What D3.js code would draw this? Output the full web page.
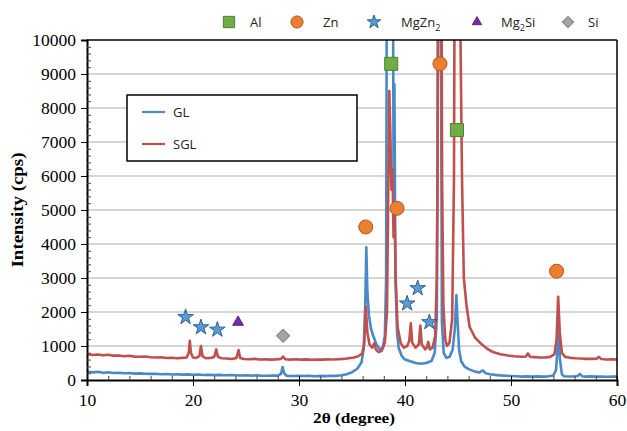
<!DOCTYPE html>
<html><head><meta charset="utf-8">
<script src="https://cdn.jsdelivr.net/npm/d3@7"></script>
<style>body{margin:0;background:#fff}svg{display:block}</style>
</head><body>
<svg id="c" width="627" height="431"></svg>
<script>
// ---- data ----
const xTicks = [10, 20, 30, 40, 50, 60];
const yTicks = [0, 1000, 2000, 3000, 4000, 5000, 6000, 7000, 8000, 9000, 10000];
const seriesNames = ["GL", "SGL"];

// GL (blue) pattern [2theta, cps]
const glData = [
 [10,250],[10.5,225],[11,240],[11.5,215],[12,228],[12.5,205],[13,215],[13.5,198],[14,206],[14.5,188],
 [15,196],[15.5,182],[16,180],[16.5,186],[17,168],[17.5,176],[18,162],[18.5,170],[19,158],[19.5,166],
 [20,152],[20.5,160],[21,148],[21.5,156],[22,144],[22.5,150],[23,138],[23.5,146],[24,138],[24.5,132],
 [25,140],[25.5,128],[26,135],[26.5,126],[27,124],[27.5,130],[28,128],[28.3,180],[28.45,380],[28.6,200],
 [28.8,128],[29,122],[29.5,118],[30,125],[30.5,116],[31,122],[31.5,112],[32,120],[32.5,114],[33,125],
 [33.5,122],[34,140],[34.5,170],[35,230],[35.5,330],[35.9,520],[36.1,900],[36.25,2200],[36.35,3900],[36.45,2600],
 [36.6,1900],[36.8,1500],[37.0,1300],[37.3,1050],[37.6,900],[37.9,950],[38.1,1300],[38.22,3000],[38.3,14000],[38.85,14000],
 [38.92,6000],[39.0,8700],[39.1,3000],[39.25,1400],[39.4,950],[39.7,700],[40.0,600],[40.5,550],[41,500],[41.5,480],
 [42,500],[42.5,560],[42.8,800],[43.0,1800],[43.18,14000],[43.36,14000],[43.48,1700],[43.65,800],[43.9,650],[44.2,680],
 [44.5,900],[44.7,1500],[44.85,2500],[44.95,1800],[45.1,900],[45.3,550],[45.6,400],[46,320],[46.5,260],[47,220],
 [47.35,280],[47.6,200],[48,170],[48.5,150],[49,135],[49.5,125],[50,118],[50.5,110],[51,100],[51.5,108],
 [52,98],[52.5,106],[53,100],[53.5,108],[54,130],[54.25,300],[54.38,900],[54.5,1450],[54.62,600],[54.8,170],
 [55,112],[55.5,104],[56,108],[56.3,118],[56.5,180],[56.7,110],[57,100],[57.5,106],[58,98],[58.5,104],
 [59,96],[59.5,102],[60,98]
];

// SGL (red) pattern [2theta, cps]
const sglData = [
 [10,765],[10.5,735],[11,752],[11.5,726],[12,742],[12.5,716],[13,720],[13.5,698],[14,712],[14.5,688],
 [15,684],[15.5,692],[16,668],[16.5,660],[17,668],[17.5,648],[18,656],[18.5,640],[19,652],[19.4,662],
 [19.6,800],[19.7,1150],[19.8,800],[20.0,660],[20.3,648],[20.6,700],[20.75,1000],[20.9,700],[21.2,640],[21.7,652],
 [22.0,680],[22.2,900],[22.35,680],[22.7,640],[23.2,632],[23.7,618],[24.1,650],[24.3,880],[24.45,650],[24.8,618],
 [25.3,610],[25.8,622],[26.3,604],[26.8,612],[27.3,600],[27.8,606],[28.3,622],[28.5,690],[28.7,612],[29.2,600],
 [29.7,610],[30.2,598],[30.7,606],[31.2,596],[31.7,604],[32.2,600],[32.7,608],[33.2,602],[33.7,612],[34.2,620],
 [34.7,640],[35.2,660],[35.6,700],[35.95,780],[36.15,1050],[36.3,2150],[36.45,1400],[36.65,1050],[36.9,950],[37.1,1080],
 [37.25,900],[37.5,820],[37.8,850],[38.1,1100],[38.3,2000],[38.42,5500],[38.52,8500],[38.62,7200],[38.72,5600],[38.82,6200],
 [38.92,4200],[39.02,4800],[39.12,3000],[39.3,1560],[39.6,1080],[39.9,950],[40.2,1000],[40.4,1150],[40.55,1670],[40.68,1100],
 [41.0,950],[41.3,1050],[41.45,1600],[41.58,1050],[41.9,900],[42.05,950],[42.2,1120],[42.35,900],[42.6,950],[42.85,1300],
 [43.0,3000],[43.07,5900],[43.12,14000],[43.42,14000],[43.5,5900],[43.62,2200],[43.8,1200],[43.95,1000],[44.2,1100],[44.45,1800],
 [44.62,5900],[44.7,14000],[45.1,14000],[45.38,5900],[45.55,3000],[45.8,2200],[46.1,1560],[46.6,1250],[47.1,1090],[47.7,930],
 [48.3,820],[49,760],[49.7,722],[50.3,700],[51,684],[51.4,690],[51.6,780],[51.8,684],[52.2,672],[52.7,660],
 [53.2,662],[53.7,680],[54.1,760],[54.3,1200],[54.45,2450],[54.6,1400],[54.8,800],[55.1,680],[55.6,652],[56.1,640],
 [56.6,632],[57.1,622],[57.6,620],[58.1,630],[58.3,680],[58.5,620],[59,602],[59.5,610],[60,600]
];

// phase markers
const legendPhases = ["Al", "Zn", "MgZn2", "Mg2Si", "Si"];
const alMarks = [[38.7, 9300], [44.9, 7350]];
const znMarks = [[36.3, 4500], [39.25, 5050], [43.3, 9300], [54.3, 3200]];
const mgzn2Marks = [[19.3, 1850], [20.75, 1550], [22.3, 1480], [40.2, 2250], [41.2, 2700], [42.3, 1700]];
const mg2siMarks = [[24.25, 1700]];
const siMarks = [[28.5, 1300]];

// ---- drawing ----
const svg = d3.select("#c");
const L = 87, R = 617, T = 40, B = 380;
const x = d3.scaleLinear().domain([10, 60]).range([L, R]);
const y = d3.scaleLinear().domain([0, 10000]).range([B, T]);

const colors = {GL: "#4a89c8", SGL: "#c0504d"};
const sty = {
  Al: {fill: "#70ad47", stroke: "#507e32"},
  Zn: {fill: "#ed7d31", stroke: "#ae5a21"},
  MgZn2: {fill: "#5b9bd5", stroke: "#2f5f8f"},
  Mg2Si: {fill: "#7030a0", stroke: "#5a2483"},
  Si: {fill: "#a5a5a5", stroke: "#7f7f7f"}
};
const shapes = {Al: d3.symbolSquare, Zn: d3.symbolCircle, MgZn2: d3.symbolStar, Mg2Si: d3.symbolTriangle, Si: d3.symbolSquare};
const sizes = {Al: 170, Zn: 155, MgZn2: 75, Mg2Si: 50, Si: 85};
const rot = {Al: 0, Zn: 0, MgZn2: 0, Mg2Si: 0, Si: 45};

// grid
svg.append("g").selectAll("line").data(yTicks.filter(v => v > 0 && v < 10000)).join("line")
  .attr("x1", L).attr("x2", R).attr("y1", d => y(d)).attr("y2", d => y(d))
  .attr("stroke", "#c9c9c9").attr("stroke-width", 1.3);

// clip
svg.append("clipPath").attr("id", "clip").append("rect")
  .attr("x", L).attr("y", T).attr("width", R - L).attr("height", B - T);

const line = d3.line().x(d => x(d[0])).y(d => y(d[1]));
const g = svg.append("g").attr("clip-path", "url(#clip)");
g.append("path").datum(glData).attr("d", line).attr("fill", "none")
  .attr("stroke", colors.GL).attr("stroke-width", 2.6).attr("stroke-linejoin", "round");
g.append("path").datum(sglData).attr("d", line).attr("fill", "none")
  .attr("stroke", colors.SGL).attr("stroke-width", 2.6).attr("stroke-linejoin", "round");

// frame
svg.append("line").attr("x1", L).attr("x2", R).attr("y1", T).attr("y2", T).attr("stroke", "#000").attr("stroke-width", 1.5);
svg.append("line").attr("x1", R).attr("x2", R).attr("y1", T).attr("y2", B).attr("stroke", "#000").attr("stroke-width", 1.5);

// axes
const yAxis = d3.axisLeft(y).tickValues(yTicks).tickSize(6).tickFormat(d3.format("d"));
const ya = svg.append("g").attr("transform", `translate(${L},0)`).call(yAxis);
const yMinor = d3.axisRight(y).tickValues(d3.range(0, 10001, 200).filter(v => v % 1000 !== 0)).tickSize(4).tickFormat("");
const ym = svg.append("g").attr("transform", `translate(${L},0)`).call(yMinor);
ym.select(".domain").remove();
const xAxis = d3.axisBottom(x).tickValues(xTicks).tickSize(6).tickPadding(8).tickFormat(d3.format("d"));
const xa = svg.append("g").attr("transform", `translate(0,${B})`).call(xAxis);
const xMinor = d3.axisTop(x).tickValues(d3.range(10, 61, 2).filter(v => v % 10 !== 0)).tickSize(4).tickFormat("");
const xm = svg.append("g").attr("transform", `translate(0,${B})`).call(xMinor);
xm.select(".domain").remove();
[ya, xa].forEach(a => {
  a.select(".domain").attr("stroke-width", 2);
  a.selectAll("text").attr("font-family", "Liberation Serif, serif").attr("font-size", 17.5).attr("fill", "#000");
});
ya.selectAll("text").attr("dx", -2);
[ym, xm].forEach(a => a.selectAll("line").attr("stroke", "#444"));
xa.selectAll(".tick line").attr("y1", -4);

// axis titles
svg.append("text").attr("transform", "translate(23,210) rotate(-90)")
  .attr("text-anchor", "middle").attr("font-family", "Liberation Serif, serif").attr("font-size", 17)
  .attr("font-weight", "bold").attr("textLength", 115).attr("lengthAdjust", "spacingAndGlyphs")
  .text("Intensity (cps)");
svg.append("text").attr("x", 354).attr("y", 423)
  .attr("text-anchor", "middle").attr("font-family", "Liberation Serif, serif").attr("font-size", 15)
  .attr("font-weight", "bold").attr("textLength", 82).attr("lengthAdjust", "spacingAndGlyphs")
  .text("2θ (degree)");

// markers on chart
const markSets = {Al: alMarks, Zn: znMarks, MgZn2: mgzn2Marks, Mg2Si: mg2siMarks, Si: siMarks};
function sym(sel, p, k) {
  sel.attr("d", d3.symbol().type(shapes[p]).size(sizes[p] * (k || 1))())
    .attr("fill", sty[p].fill).attr("stroke", sty[p].stroke).attr("stroke-width", 1);
}
Object.keys(markSets).forEach(p => {
  svg.append("g").selectAll("path").data(markSets[p]).join("path")
    .attr("transform", d => `translate(${x(d[0])},${y(d[1])}) rotate(${rot[p]})`)
    .call(sym, p);
});

// top legend
const topLeg = [
  {p: "Al", sx: 229, tx: 250},
  {p: "Zn", sx: 297, tx: 323},
  {p: "MgZn2", sx: 374, tx: 401},
  {p: "Mg2Si", sx: 477, tx: 501},
  {p: "Si", sx: 568, tx: 588}
];
topLeg.forEach((d, i) => {
  svg.append("path").attr("transform", `translate(${d.sx},22) rotate(${rot[d.p]})`).call(sym, d.p, 0.75);
  const t = svg.append("text").attr("x", d.tx).attr("y", 27)
    .attr("font-family", "Open Sans, Liberation Sans, sans-serif").attr("font-size", 13).attr("fill", "#222");
  const name = legendPhases[i];
  if (name === "MgZn2") {
    t.append("tspan").text("MgZn");
    t.append("tspan").attr("font-size", 9).attr("dy", 4).text("2");
  } else if (name === "Mg2Si") {
    t.append("tspan").text("Mg");
    t.append("tspan").attr("font-size", 9).attr("dy", 4).text("2");
    t.append("tspan").attr("dy", -4).text("Si");
  } else t.text(name);
});

// series legend
svg.append("rect").attr("x", 127).attr("y", 95).attr("width", 230).attr("height", 66)
  .attr("fill", "#fff").attr("stroke", "#000").attr("stroke-width", 1.5);
seriesNames.forEach((s, i) => {
  const yy = 112 + i * 32;
  svg.append("line").attr("x1", 142).attr("x2", 165).attr("y1", yy).attr("y2", yy)
    .attr("stroke", colors[s]).attr("stroke-width", 2.2);
  svg.append("text").attr("x", 173).attr("y", yy + 5)
    .attr("font-family", "Open Sans, Liberation Sans, sans-serif").attr("font-size", 13).attr("fill", "#222").text(s);
});
</script>
</body></html>
